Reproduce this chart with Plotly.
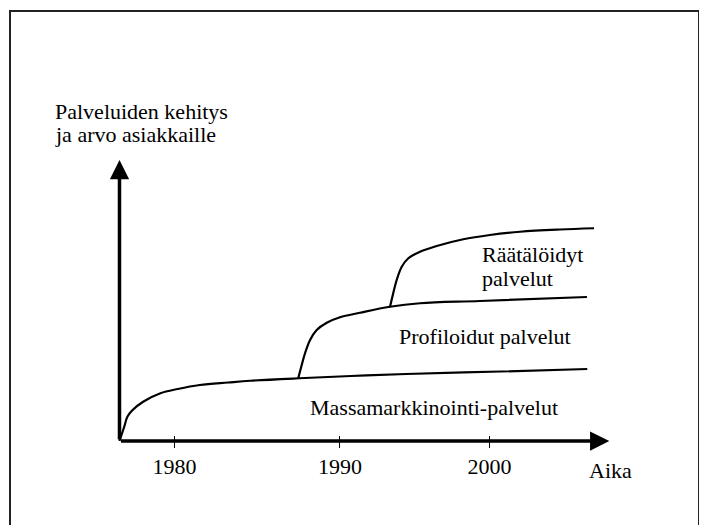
import plotly.graph_objects as go

# curve data: x = year, y = relative value of the services
massa_x = [1976.5, 1976.8, 1977.0, 1977.3, 1978.0, 1979.1, 1980.2, 1981.6, 1983.4,
           1984.8, 1987.9, 1991.2, 1994.7, 2000.7, 2006.2]
massa_y = [0, 5.7, 9.7, 12.2, 15.7, 19.1, 20.8, 22.4, 23.4, 24.1, 25.1, 26.0, 26.8,
           27.8, 28.8]

profiloidut_x = [1987.85, 1988.07, 1988.28, 1988.6, 1989.02, 1989.66, 1990.5, 1991.77,
                 1993.67, 1995.58, 1999.39, 2006.18]
profiloidut_y = [25.1, 30.4, 35.1, 40.4, 44.4, 47.3, 49.5, 51.3, 53.7, 55.1, 56.0, 57.6]

raataloidyt_x = [1993.67, 1993.88, 1994.1, 1994.42, 1994.84, 1995.58, 1996.64, 1998.33,
                 2000.02, 2001.93, 2004.47, 2006.63]
raataloidyt_y = [53.5, 59.1, 64.4, 69.7, 73.1, 75.7, 78.0, 80.7, 82.4, 83.7, 84.6, 85.1]

tick_vals = [1980, 1990.5, 2000]
tick_text = ['1980', '1990', '2000']

origin = (1976.5, 0)
x_end = 2007.6
y_end = 112.4

FONT = 'Liberation Serif'

# page body has an 8px margin, so the figure is 8px smaller each way
W, H = 699, 517

fig = go.Figure()
for xs, ys in [(massa_x, massa_y), (profiloidut_x, profiloidut_y),
               (raataloidyt_x, raataloidyt_y)]:
    fig.add_trace(go.Scatter(x=xs, y=ys, mode='lines',
                             line=dict(color='black', width=2.2, shape='spline', smoothing=1.0),
                             hoverinfo='skip', showlegend=False))

# axis arrows
fig.add_annotation(x=x_end, y=0, ax=origin[0], ay=origin[1], axref='x', ayref='y',
                   showarrow=True, arrowhead=2, arrowsize=1.1, arrowwidth=3.5,
                   arrowcolor='black', text='')
fig.add_annotation(x=origin[0], y=y_end, ax=origin[0], ay=origin[1], axref='x', ayref='y',
                   showarrow=True, arrowhead=2, arrowsize=1.1, arrowwidth=3.5,
                   arrowcolor='black', text='')

labels = [
    ('Räätälöidyt', 1999.39, 74.8),
    ('palvelut', 1999.39, 65.2),
    ('Profiloidut palvelut', 1994.1, 41.8),
    ('Massamarkkinointi-palvelut', 1988.47, 13.6),
    ('Palveluiden kehitys', 1972.28, 132.0),
    ('ja arvo asiakkaille', 1972.28, 122.6),
]
for txt, lx, ly in labels:
    fig.add_annotation(x=lx, y=ly, text=txt, showarrow=False, xanchor='left',
                       yanchor='middle', font=dict(family=FONT, size=22, color='black'))

fig.add_annotation(x=2007.7, y=-11.6, text='Aika', showarrow=False, xanchor='center',
                   yanchor='middle', font=dict(family=FONT, size=22, color='black'))

# frame around the picture
fig.add_shape(type='rect', xref='paper', yref='paper', x0=2 / W, x1=691 / W,
              y0=-0.1, y1=1 - 3 / H, line=dict(color='#222', width=2))

fig.update_layout(
    width=W, height=H,
    margin=dict(l=0, r=0, t=0, b=0),
    paper_bgcolor='white', plot_bgcolor='white',
    xaxis=dict(range=[1969.421, 2013.802], showgrid=False, zeroline=False,
               showline=False, tickvals=tick_vals, ticktext=tick_text,
               ticks='outside', ticklen=12, tickwidth=1.2, tickcolor='black',
               anchor='free', position=1 - 427 / H,
               tickfont=dict(family=FONT, size=22, color='black')),
    yaxis=dict(range=[-33.6, 173.2], visible=False),
)

fig.write_html('out.html')
